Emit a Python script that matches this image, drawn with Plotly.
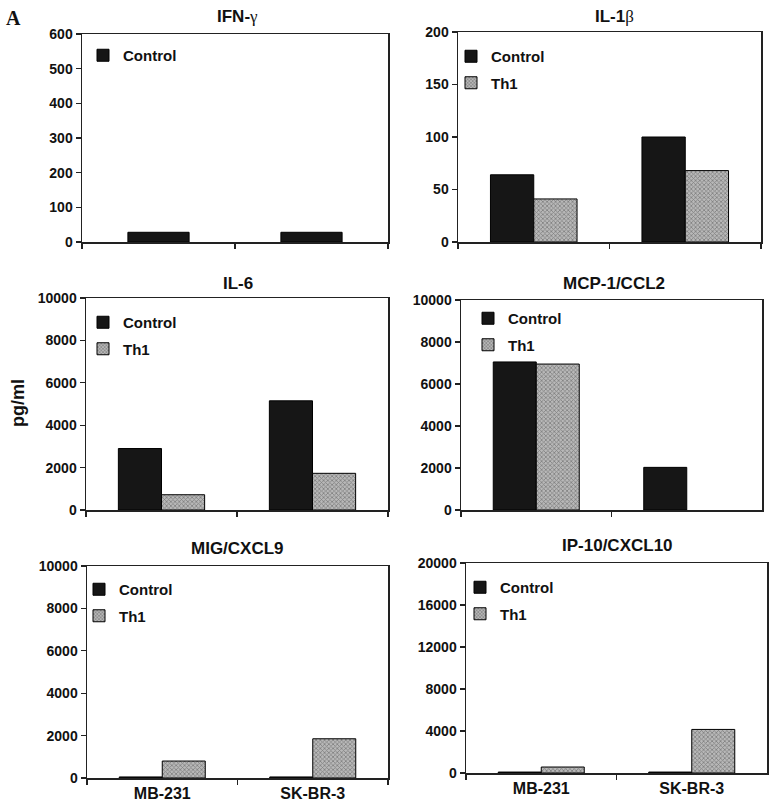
import plotly.graph_objects as go

W, H = 774, 808

cell_lines = ["MB-231", "SK-BR-3"]

panel_titles = ["IFN-γ", "IL-1β", "IL-6", "MCP-1/CCL2", "MIG/CXCL9", "IP-10/CXCL10"]

ifn_control = [28, 28]
il1b_control = [64, 100]
il1b_th1 = [41, 68]
il6_control = [2900, 5150]
il6_th1 = [720, 1730]
mcp1_control = [7050, 2030]
mcp1_th1 = [6950, 0]
mig_control = [50, 50]
mig_th1 = [800, 1850]
ip10_control = [90, 90]
ip10_th1 = [570, 4150]

y_max = [600, 200, 10000, 10000, 10000, 20000]
y_step = [100, 50, 2000, 2000, 2000, 4000]

# panel boxes in page pixels: left, right, top, bottom
boxes = [
    (82, 388, 34, 242),
    (458, 761, 32, 242),
    (86, 388, 298, 510),
    (461, 762, 300, 510),
    (87, 388, 566, 778),
    (466, 767, 563, 773),
]

FONT = "Liberation Sans, Arial, sans-serif"
CTRL_COLOR = "#161616"
TH1_BG = "#b8b8b8"
TH1_FG = "#454545"

fig = go.Figure()

def px_x(x):
    return x / W

def px_y(y):
    return 1 - y / H

panels = [
    [("Control", ifn_control)],
    [("Control", il1b_control), ("Th1", il1b_th1)],
    [("Control", il6_control), ("Th1", il6_th1)],
    [("Control", mcp1_control), ("Th1", mcp1_th1)],
    [("Control", mig_control), ("Th1", mig_th1)],
    [("Control", ip10_control), ("Th1", ip10_th1)],
]

# legend positions (page px): left, top
legend_pos = [
    (83, 39),
    (451, 40),
    (83, 306),
    (468, 302),
    (79, 573),
    (460, 571),
]

layout_axes = {}
for i, series in enumerate(panels):
    n = i + 1
    xa = "x" if n == 1 else f"x{n}"
    ya = "y" if n == 1 else f"y{n}"
    leg = "legend" if n == 1 else f"legend{n}"
    nser = len(series)
    if nser == 1:
        widths, offsets = [0.4], [-0.2]
    else:
        bw = 1 / 3.5
        widths, offsets = [bw, bw], [-bw, 0]
    for k, (name, vals) in enumerate(series):
        line_w = [1 if v > 0 else 0 for v in vals]
        if name == "Control":
            marker = dict(color=CTRL_COLOR, line=dict(color="#000", width=line_w))
        else:
            marker = dict(color=TH1_BG, line=dict(color="#000", width=line_w),
                          pattern=dict(shape="x", size=3, solidity=0.45,
                                       fgcolor=TH1_FG, bgcolor=TH1_BG))
        fig.add_trace(go.Bar(
            x=cell_lines, y=vals, name=name, marker=marker,
            width=widths[k], offset=offsets[k],
            xaxis=xa, yaxis=ya, legend=leg, legendgroup=f"{n}-{name}",
            showlegend=True,
        ))
    l, r, t, b = boxes[i]
    axis_common = dict(showline=True, mirror=True, linecolor="#222", linewidth=1.5,
                       showgrid=False, zeroline=False, ticks="outside", ticklen=5,
                       tickcolor="#222", tickwidth=1.2)
    layout_axes["xaxis" if n == 1 else f"xaxis{n}"] = dict(
        domain=[px_x(l), px_x(r)], anchor=ya, type="category",
        categoryorder="array", categoryarray=cell_lines,
        tickson="boundaries", range=[-0.5, 1.5],
        showticklabels=(n >= 5),
        tickfont=dict(family=FONT, size=16, color="#111", weight="bold"),
        **axis_common)
    layout_axes["yaxis" if n == 1 else f"yaxis{n}"] = dict(
        domain=[px_y(b), px_y(t)], anchor=xa, range=[0, y_max[i]],
        tick0=0, dtick=y_step[i], tickformat="d",
        tickfont=dict(family=FONT, size=14, color="#111", weight="bold"),
        **axis_common)
    lx, ly = legend_pos[i]
    layout_axes[leg] = dict(
        x=px_x(lx), y=px_y(ly), xanchor="left", yanchor="top",
        bgcolor="rgba(0,0,0,0)", borderwidth=0, tracegroupgap=4,
        font=dict(family=FONT, size=15, color="#111", weight="bold"),
        itemwidth=30,
    )

fig.update_layout(**layout_axes)

title_pos = [(238, 16), (614, 16), (238, 283), (614, 283), (238, 548), (617, 545)]
title_html = [
    "IFN-<span style='font-family:Liberation Serif;font-weight:normal'>γ</span>",
    "IL-1<span style='font-family:Liberation Serif;font-weight:normal'>β</span>",
    "IL-6", "MCP-1/CCL2", "MIG/CXCL9", "IP-10/CXCL10",
]
annotations = []
for (tx, ty), txt in zip(title_pos, title_html):
    annotations.append(dict(
        x=px_x(tx), y=px_y(ty), xref="paper", yref="paper", text=txt,
        showarrow=False, xanchor="center", yanchor="middle",
        font=dict(family=FONT, size=17, color="#111", weight="bold")))
annotations.append(dict(
    x=px_x(18), y=px_y(403), xref="paper", yref="paper", text="pg/ml",
    showarrow=False, textangle=-90, xanchor="center", yanchor="middle",
    font=dict(family=FONT, size=18, color="#111", weight="bold")))
annotations.append(dict(
    x=px_x(14), y=px_y(18), xref="paper", yref="paper", text="A",
    showarrow=False, xanchor="center", yanchor="middle",
    font=dict(family="Liberation Serif, Times New Roman, serif", size=20,
              color="#111", weight="bold")))

fig.update_layout(
    width=W, height=H, margin=dict(l=0, r=0, t=0, b=0, autoexpand=False),
    paper_bgcolor="white", plot_bgcolor="white",
    annotations=annotations, showlegend=True, hovermode=False,
)

fig.write_html(
    "out.html",
    config={"displayModeBar": False, "staticPlot": True},
    post_script="document.body.style.margin='0';document.body.style.overflow='hidden';",
)
